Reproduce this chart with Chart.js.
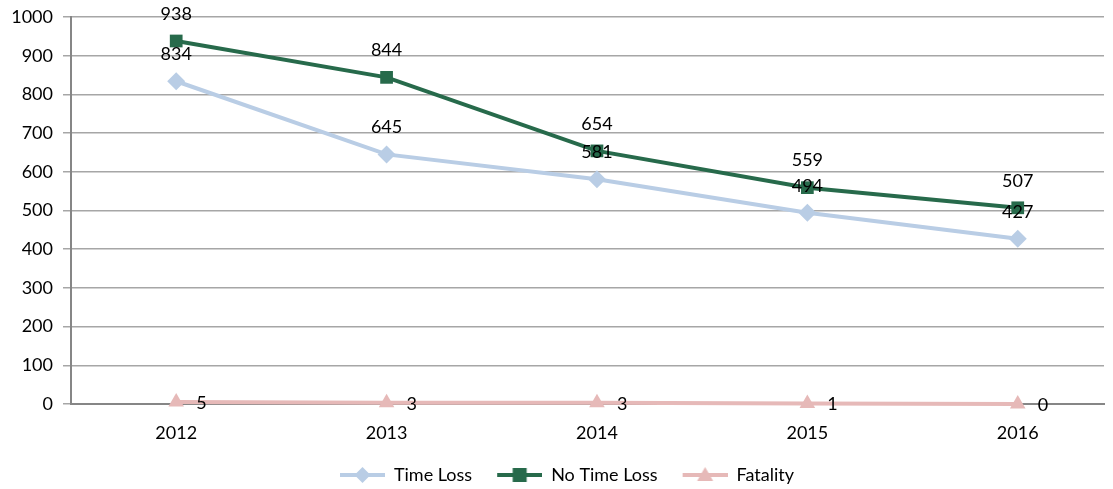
<!DOCTYPE html>
<html>
<head>
<meta charset="utf-8">
<script src="https://cdn.jsdelivr.net/npm/chart.js@4.4.1/dist/chart.umd.min.js"></script>
<style>
  html, body { margin: 0; padding: 0; background: #fff; }
  #wrap { width: 1113px; height: 489px; }
</style>
</head>
<body>
<div id="wrap"><canvas id="chart"></canvas></div>
<script>
// Injury counts by year
const years = [2012, 2013, 2014, 2015, 2016];
const timeLoss = [834, 645, 581, 494, 427];
const noTimeLoss = [938, 844, 654, 559, 507];
const fatality = [5, 3, 3, 1, 0];
const yTicks = [0, 100, 200, 300, 400, 500, 600, 700, 800, 900, 1000];

const FONT = 'Lato, "Open Sans", sans-serif';
const FSIZE = 18;

function toPoints(values) {
    return years.map((y, i) => ({ x: y, y: values[i] }));
}

// small canvas for legend: line with marker in the middle (left part left blank as spacing)
function legendIcon(color, shape) {
    const c = document.createElement('canvas');
    c.width = 66; c.height = 20;
    const g = c.getContext('2d');
    const L = 21, R = 66, M = 43.5;
    g.strokeStyle = color;
    g.lineWidth = 4;
    g.beginPath();
    g.moveTo(L, 10); g.lineTo(R, 10);
    g.stroke();
    g.fillStyle = color;
    g.beginPath();
    if (shape === 'diamond') {
        g.moveTo(M, 2); g.lineTo(M + 8, 10); g.lineTo(M, 18); g.lineTo(M - 8, 10);
    } else if (shape === 'square') {
        g.rect(M - 7, 3, 14, 14);
    } else {
        g.moveTo(M, 2); g.lineTo(M + 8, 16); g.lineTo(M - 8, 16);
    }
    g.closePath();
    g.fill();
    return c;
}

const colors = {
    timeLoss: '#b9cde5',
    noTimeLoss: '#276a4b',
    fatality: '#e6b9b8'
};

// value labels next to the markers
const valueLabels = {
    id: 'valueLabels',
    afterDatasetsDraw(chart) {
        const ctx = chart.ctx;
        ctx.save();
        ctx.font = FSIZE + 'px ' + FONT;
        ctx.fillStyle = '#000';
        ctx.textBaseline = 'middle';
        chart.data.datasets.forEach((ds, di) => {
            const meta = chart.getDatasetMeta(di);
            meta.data.forEach((pt, i) => {
                const v = ds.data[i].y;
                if (di === 2) {
                    ctx.textAlign = 'left';
                    ctx.fillText(String(v), pt.x + 20, pt.y + 1);
                } else {
                    ctx.textAlign = 'center';
                    ctx.fillText(String(v), pt.x, pt.y - 27);
                }
            });
        });
        ctx.restore();
    }
};

new Chart(document.getElementById('chart'), {
    type: 'line',
    data: {
        datasets: [
            {
                label: 'Time Loss',
                data: toPoints(timeLoss),
                borderColor: colors.timeLoss,
                backgroundColor: colors.timeLoss,
                borderWidth: 4,
                pointStyle: 'rectRot',
                pointRadius: 9,
                pointBorderWidth: 0,
                tension: 0,
                legendIcon: legendIcon(colors.timeLoss, 'diamond')
            },
            {
                label: 'No Time Loss',
                data: toPoints(noTimeLoss),
                borderColor: colors.noTimeLoss,
                backgroundColor: colors.noTimeLoss,
                borderWidth: 4,
                pointStyle: 'rect',
                pointRadius: 9,
                pointBorderWidth: 0,
                tension: 0,
                legendIcon: legendIcon(colors.noTimeLoss, 'square')
            },
            {
                label: 'Fatality',
                data: toPoints(fatality),
                borderColor: colors.fatality,
                backgroundColor: colors.fatality,
                borderWidth: 4,
                pointStyle: 'triangle',
                pointRadius: 9,
                pointBorderWidth: 0,
                tension: 0,
                clip: false,
                legendIcon: legendIcon(colors.fatality, 'triangle')
            }
        ]
    },
    options: {
        responsive: true,
        maintainAspectRatio: false,
        animation: false,
        layout: {
            padding: { top: 0, right: 0, bottom: -5, left: 0 }
        },
        plugins: {
            tooltip: { enabled: false },
            legend: {
                position: 'bottom',
                labels: {
                    usePointStyle: true,
                    pointStyleWidth: 66,
                    padding: 4,
                    color: '#000',
                    font: { family: FONT, size: FSIZE },
                    generateLabels(chart) {
                        return chart.data.datasets.map((ds, i) => ({
                            text: ds.label,
                            pointStyle: ds.legendIcon,
                            fillStyle: ds.borderColor,
                            strokeStyle: ds.borderColor,
                            lineWidth: 0,
                            fontColor: '#000',
                            datasetIndex: i,
                            hidden: false
                        }));
                    }
                }
            }
        },
        scales: {
            x: {
                type: 'linear',
                min: 2011.5,
                max: 2016.41,
                afterBuildTicks(scale) {
                    scale.ticks = years.map(y => ({ value: y }));
                },
                afterFit(scale) {
                    scale.height = 58;
                },
                ticks: {
                    color: '#000',
                    font: { family: FONT, size: FSIZE },
                    padding: 10,
                    maxRotation: 0,
                    callback: v => String(v)
                },
                grid: { display: false, drawTicks: true, tickLength: 8 },
                border: { color: '#868686', width: 2 }
            },
            y: {
                min: 0,
                max: 1000,
                afterBuildTicks(scale) {
                    scale.ticks = yTicks.map(v => ({ value: v }));
                },
                afterFit(scale) {
                    scale.width = 71;
                    scale.paddingTop = 17;
                },
                ticks: {
                    color: '#000',
                    font: { family: FONT, size: FSIZE },
                    padding: 10,
                    callback: v => String(v)
                },
                grid: { color: '#a6a6a6', lineWidth: 1.5, tickLength: 8 },
                border: { color: '#868686', width: 2 }
            }
        }
    },
    plugins: [valueLabels]
});
</script>
</body>
</html>
